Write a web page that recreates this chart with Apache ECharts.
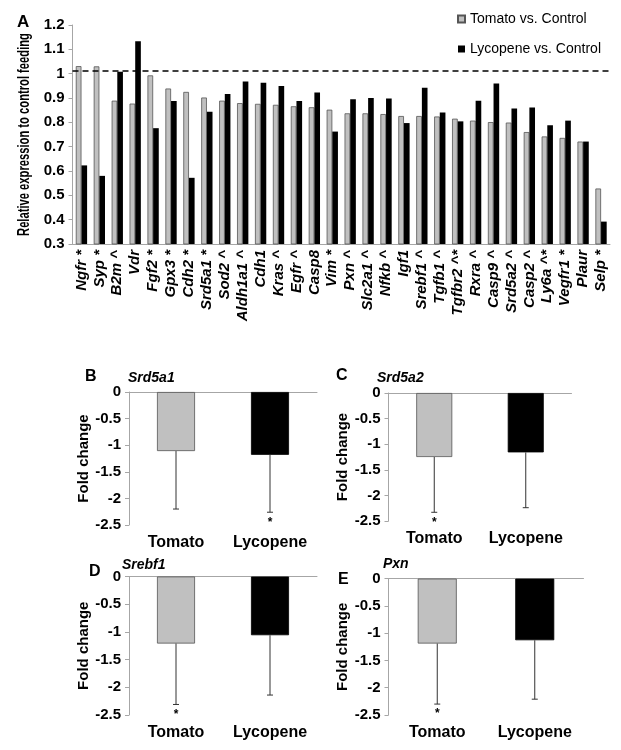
<!DOCTYPE html>
<html>
<head>
<meta charset="utf-8">
<script src="https://cdn.jsdelivr.net/npm/echarts@6/dist/echarts.min.js"></script>
<style>
html,body{margin:0;padding:0;background:#fff;}
#chart{width:621px;height:750px;}
</style>
</head>
<body>
<div id="chart"></div>
<script>
// ---------- Panel A data ----------
const genes = ['Ngfr','Syp','B2m','Vdr','Fgf2','Gpx3','Cdh2','Srd5a1','Sod2','Aldh1a1','Cdh1','Kras','Egfr','Casp8','Vim','Pxn','Slc2a1','Nfkb','Igf1','Srebf1','Tgfb1','Tgfbr2','Rxra','Casp9','Srd5a2','Casp2','Ly6a','Vegfr1','Plaur','Selp'];
const geneMarks = ['*','*','^','','*','*','*','*','^','^','','^','^','','*','^','^','^','','^','^','^*','^','^','^','^','^*','*','','*'];
const tomatoA = [1.031,1.03,0.889,0.877,0.993,0.939,0.925,0.902,0.889,0.879,0.876,0.872,0.866,0.862,0.852,0.837,0.837,0.834,0.826,0.826,0.824,0.815,0.807,0.801,0.799,0.760,0.742,0.736,0.721,0.528];
const lycopeneA = [0.623,0.580,1.008,1.133,0.776,0.888,0.572,0.843,0.916,0.968,0.963,0.949,0.888,0.923,0.762,0.895,0.900,0.898,0.797,0.942,0.840,0.804,0.889,0.960,0.857,0.861,0.788,0.807,0.721,0.392];
const legendNames = ['Tomato vs. Control','Lycopene vs. Control'];
const controlLevel = 1.01;
const yTitleA = 'Relative expression to control feeding';

// ---------- Panels B-E data ----------
const groups = ['Tomato','Lycopene'];
const srd5a1Mean = [-1.11,-1.18], srd5a1Err = [-2.20,-2.26], srd5a1Sig = ['','*'];
const srd5a2Mean = [-1.25,-1.16], srd5a2Err = [-2.33,-2.24], srd5a2Sig = ['*',''];
const srebf1Mean = [-1.21,-1.06], srebf1Err = [-2.31,-2.14], srebf1Sig = ['*',''];
const pxnMean = [-1.19,-1.13], pxnErr = [-2.30,-2.21], pxnSig = ['*',''];

const FONT = '"Liberation Sans", Arial, sans-serif';
const GRAY = '#c0c0c0';
const AXISC = '#a6a6a6';

const chart = echarts.init(document.getElementById('chart'));

const panels = [
  {letter:'B', gene:'Srd5a1', mean:srd5a1Mean, err:srd5a1Err, sig:srd5a1Sig, grid:{left:129, top:392, width:188, height:133}, bw:38, ng:32, lx:85, ly:369, gx:128, gy:371},
  {letter:'C', gene:'Srd5a2', mean:srd5a2Mean, err:srd5a2Err, sig:srd5a2Sig, grid:{left:388.5, top:393, width:183, height:128}, bw:36, ng:36, lx:336, ly:368, gx:377, gy:371},
  {letter:'D', gene:'Srebf1', mean:srebf1Mean, err:srebf1Err, sig:srebf1Sig, grid:{left:129, top:576.5, width:188, height:138.5}, bw:38, ng:37, lx:89, ly:564, gx:122, gy:558},
  {letter:'E', gene:'Pxn', mean:pxnMean, err:pxnErr, sig:pxnSig, grid:{left:388.5, top:578.6, width:195, height:136.4}, bw:39, ng:36, lx:338, ly:572, gx:383, gy:557}
];

const grids = [{left:72.5, top:25, width:537.5, height:219}];
const xAxes = [{
  gridIndex:0, type:'category',
  data: genes.map((g,i)=> geneMarks[i] ? g + ' ' + geneMarks[i] : g),
  axisLine:{lineStyle:{color:AXISC, width:1}},
  axisTick:{show:false},
  axisLabel:{rotate:90, interval:0, margin:6, color:'#000', fontFamily:FONT, fontWeight:'bold', fontStyle:'italic', fontSize:15}
}];
const yAxes = [{
  gridIndex:0, type:'value', min:0.3, max:1.2, interval:0.1,
  axisLine:{show:true, lineStyle:{color:AXISC}},
  axisTick:{show:true, length:4, lineStyle:{color:AXISC}},
  splitLine:{show:false},
  axisLabel:{color:'#000', fontFamily:FONT, fontWeight:'bold', fontSize:15, margin:8,
    formatter: v => String(Math.round(v*10)/10)}
}];
const series = [
  {type:'bar', name:legendNames[0], xAxisIndex:0, yAxisIndex:0, data:tomatoA, barGap:'0%', barCategoryGap:'37%',
   itemStyle:{color:GRAY, borderColor:'#555', borderWidth:0.8},
   markLine:{silent:true, symbol:'none', label:{show:false},
     lineStyle:{color:'#000', type:[6,4], width:1.6}, data:[{yAxis:controlLevel}]}},
  {type:'bar', name:legendNames[1], xAxisIndex:0, yAxisIndex:0, data:lycopeneA,
   itemStyle:{color:'#000'}}
];
const titles = [{text:'A', left:17, top:14, padding:0, textStyle:{fontFamily:FONT, fontWeight:'bold', fontSize:17, color:'#000'}}];

panels.forEach((p, k) => {
  const gi = k + 1;
  grids.push(p.grid);
  xAxes.push({gridIndex:gi, type:'category', data:groups, position:'bottom',
    axisLine:{show:false, onZero:false}, axisTick:{show:false},
    axisLabel:{interval:0, color:'#000', fontFamily:FONT, fontWeight:'bold', fontSize:16, margin:10}});
  xAxes.push({gridIndex:gi, type:'category', data:groups, position:'top',
    axisLine:{show:true, onZero:false, lineStyle:{color:AXISC}}, axisTick:{show:false}, axisLabel:{show:false}});
  yAxes.push({gridIndex:gi, type:'value', min:-2.5, max:0, interval:0.5,
    name:'Fold change', nameLocation:'middle', nameGap:p.ng,
    nameTextStyle:{color:'#000', fontFamily:FONT, fontWeight:'bold', fontSize:15},
    axisLine:{show:true, lineStyle:{color:AXISC}},
    axisTick:{show:true, length:4, lineStyle:{color:AXISC}},
    splitLine:{show:false},
    axisLabel:{color:'#000', fontFamily:FONT, fontWeight:'bold', fontSize:15, margin:8}});
  const xi = xAxes.length - 2;
  series.push({type:'bar', xAxisIndex:xi, yAxisIndex:gi, barWidth:p.bw,
    data: p.mean.map((v,i)=>({value:v, itemStyle:{color: i===0 ? GRAY : '#000', borderColor: i===0 ? '#555' : '#000', borderWidth: 0.8}}))});
  const errData = p.mean.map((v,i)=>[i, v, p.err[i]]);
  const sigs = p.sig;
  series.push({type:'custom', xAxisIndex:xi, yAxisIndex:gi, data:errData, z:5,
    renderItem:(params, api) => {
      const i = api.value(0), v = api.value(1), e = api.value(2);
      const p1 = api.coord([i, v]), p2 = api.coord([i, e]);
      const children = [
        {type:'line', shape:{x1:p1[0], y1:p1[1], x2:p2[0], y2:p2[1]}, style:{stroke:'#333', lineWidth:1}},
        {type:'line', shape:{x1:p2[0]-3, y1:p2[1], x2:p2[0]+3, y2:p2[1]}, style:{stroke:'#333', lineWidth:1}}
      ];
      const s = sigs[params.dataIndex];
      if (s) children.push({type:'text', style:{text:s, x:p2[0], y:p2[1]+4, align:'center', verticalAlign:'top', fill:'#000', font:'bold 12px ' + FONT}});
      return {type:'group', children};
    }});
  titles.push({text:p.letter, left:p.lx, top:p.ly, padding:0, textStyle:{fontFamily:FONT, fontWeight:'bold', fontSize:16, color:'#000'}});
  titles.push({text:p.gene, left:p.gx, top:p.gy, padding:0, textStyle:{fontFamily:FONT, fontWeight:'bold', fontStyle:'italic', fontSize:14, color:'#000'}});
});

chart.setOption({
  animation:false,
  backgroundColor:'#fff',
  title: titles,
  legend:{data:legendNames, orient:'vertical', left:457, top:12, padding:0, itemWidth:7, itemHeight:7, itemGap:16,
    icon:'rect', textStyle:{fontFamily:FONT, fontSize:14, color:'#000'}},
  graphic:[{type:'text', x:25, y:134.5, rotation:Math.PI/2, scaleX:0.7,
    style:{text:yTitleA, font:'bold 16px ' + FONT, fill:'#000', align:'center', verticalAlign:'middle'}}],
  grid: grids,
  xAxis: xAxes,
  yAxis: yAxes,
  series: series
});
</script>
</body>
</html>
